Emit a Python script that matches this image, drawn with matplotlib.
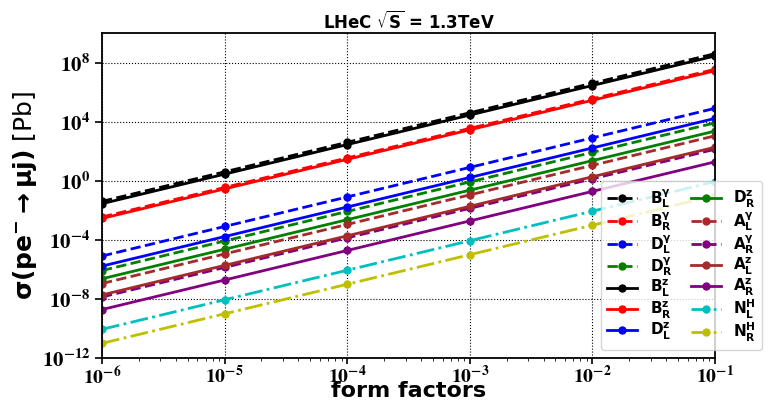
import math
import matplotlib
matplotlib.use('Agg')
import matplotlib.pyplot as plt
from matplotlib.font_manager import FontProperties
from matplotlib.ticker import FixedLocator, FuncFormatter, LogLocator, NullFormatter

plt.rcParams['mathtext.fontset'] = 'stix'

# form factor values (x)
form_factors = [1e-6, 1e-5, 1e-4, 1e-3, 1e-2, 1e-1]

# cross sections in Pb
B_L_gamma = [4.0e-2, 4.0e0, 4.0e2, 4.0e4, 4.0e6, 4.0e8]
B_R_gamma = [3.5e-3, 3.5e-1, 3.5e1, 3.5e3, 3.5e5, 3.5e7]
D_L_gamma = [8.0e-6, 8.0e-4, 8.0e-2, 8.0e0, 8.0e2, 8.0e4]
D_R_gamma = [8.3e-7, 8.3e-5, 8.3e-3, 8.3e-1, 8.3e1, 8.3e3]
B_L_z = [2.8e-2, 2.8e0, 2.8e2, 2.8e4, 2.8e6, 2.8e8]
B_R_z = [2.8e-3, 2.8e-1, 2.8e1, 2.8e3, 2.8e5, 2.8e7]
D_L_z = [1.66e-6, 1.66e-4, 1.66e-2, 1.66e0, 1.66e2, 1.66e4]
D_R_z = [2.3e-7, 2.3e-5, 2.3e-3, 2.3e-1, 2.3e1, 2.3e3]
A_L_gamma = [1.1e-7, 1.1e-5, 1.1e-3, 1.1e-1, 1.1e1, 1.1e3]
A_R_gamma = [1.35e-8, 1.35e-6, 1.35e-4, 1.35e-2, 1.35e0, 1.35e2]
A_L_z = [1.86e-8, 1.86e-6, 1.86e-4, 1.86e-2, 1.86e0, 1.86e2]
A_R_z = [1.9e-9, 1.9e-7, 1.9e-5, 1.9e-3, 1.9e-1, 1.9e1]
N_L_H = [8.7e-11, 8.7e-9, 8.7e-7, 8.7e-5, 8.7e-3, 8.7e-1]
N_R_H = [9.8e-12, 9.8e-10, 9.8e-8, 9.8e-6, 9.8e-4, 9.8e-2]

series = [
    (B_L_gamma, 'k', '--', r'$\mathbf{B_L^{\gamma}}$'),
    (B_R_gamma, 'r', '--', r'$\mathbf{B_R^{\gamma}}$'),
    (D_L_gamma, 'b', '--', r'$\mathbf{D_L^{\gamma}}$'),
    (D_R_gamma, 'g', '--', r'$\mathbf{D_R^{\gamma}}$'),
    (B_L_z, 'k', '-', r'$\mathbf{B_L^{z}}$'),
    (B_R_z, 'r', '-', r'$\mathbf{B_R^{z}}$'),
    (D_L_z, 'b', '-', r'$\mathbf{D_L^{z}}$'),
    (D_R_z, 'g', '-', r'$\mathbf{D_R^{z}}$'),
    (A_L_gamma, 'brown', '--', r'$\mathbf{A_L^{\gamma}}$'),
    (A_R_gamma, 'purple', '--', r'$\mathbf{A_R^{\gamma}}$'),
    (A_L_z, 'brown', '-', r'$\mathbf{A_L^{z}}$'),
    (A_R_z, 'purple', '-', r'$\mathbf{A_R^{z}}$'),
    (N_L_H, 'c', '-.', r'$\mathbf{N_L^{H}}$'),
    (N_R_H, 'y', '-.', r'$\mathbf{N_R^{H}}$'),
]

fig = plt.figure(figsize=(7.65, 4.03), dpi=100)
ax = fig.add_axes([0.1333, 0.1117, 0.8013, 0.8063])

for vals, col, ls, lab in series:
    ax.plot(form_factors, vals, color=col, linestyle=ls, marker='o',
            markersize=5, linewidth=2, label=lab)

ax.set_xscale('log')
ax.set_yscale('log')
ax.set_xlim(1e-6, 1e-1)
ax.set_ylim(1e-12, 1e10)

ax.yaxis.set_major_locator(FixedLocator([1e-12, 1e-8, 1e-4, 1e0, 1e4, 1e8]))
ax.yaxis.set_minor_locator(FixedLocator([]))
ax.xaxis.set_minor_locator(LogLocator(base=10, subs=range(2, 10), numticks=20))
ax.xaxis.set_minor_formatter(NullFormatter())

def fmt(v, pos):
    e = int(round(math.log10(v)))
    return r'$\mathbf{10^{%d}}$' % e

ax.xaxis.set_major_formatter(FuncFormatter(fmt))
ax.yaxis.set_major_formatter(FuncFormatter(fmt))
ax.tick_params(axis='y', which='major', labelsize=15, width=1.2, length=5)
ax.tick_params(axis='x', which='major', labelsize=14, width=1.2, length=4, pad=1)

ax.grid(True, which='major', color='k', linestyle=':', linewidth=0.8)
for sp in ax.spines.values():
    sp.set_linewidth(1.3)

ax.set_xlabel('form factors', fontsize=16, fontweight='bold', va='bottom')
ax.xaxis.set_label_coords(0.5, -0.133)
ax.set_ylabel(r'$\mathbf{\sigma(pe^{-}\rightarrow \mu j)}$ [Pb]', fontsize=18,
              labelpad=2, math_fontfamily='dejavusans')
ax.set_title(r'LHeC $\mathbf{\sqrt{S}}$ = 1.3TeV', fontsize=12, fontweight='bold',
             pad=3, math_fontfamily='dejavusans')

leg_font = FontProperties(size=11, weight='bold', math_fontfamily='dejavusans')
ax.legend(ncol=2, loc='lower right', bbox_to_anchor=(1.09, 0.0), prop=leg_font,
          handlelength=2.0, columnspacing=1.2, labelspacing=0.0, borderpad=0.4)

fig.savefig('out.png', dpi=100)
